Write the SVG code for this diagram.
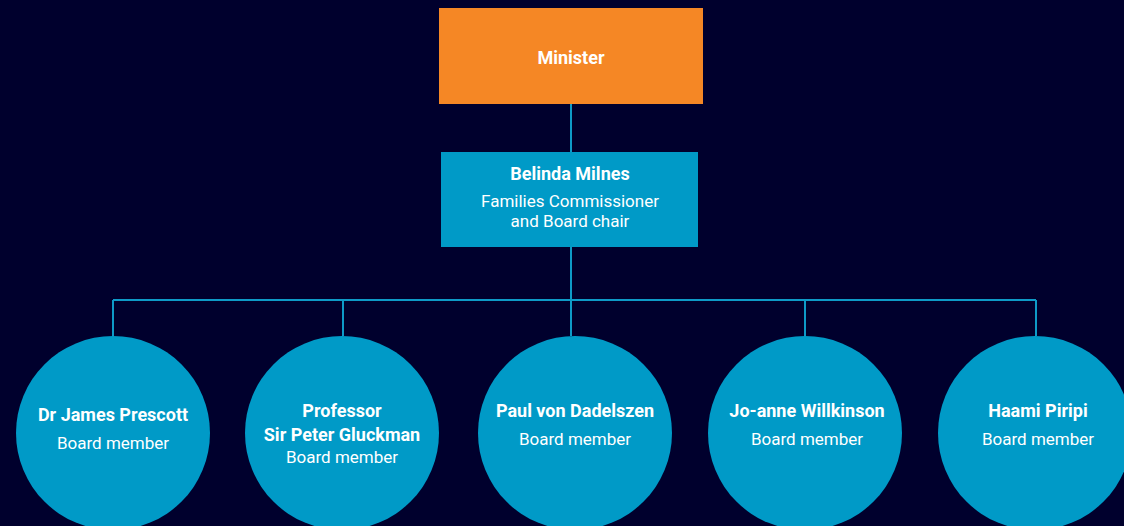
<svg xmlns="http://www.w3.org/2000/svg" width="1124" height="526" viewBox="0 0 1124 526">
<style>
.bg{fill:#00002D}
.cn{stroke:#0E9AC7;stroke-width:2;fill:none}
.blue{fill:#009AC7}
.org{fill:#F58725}
text{font-family:Roboto,"Liberation Sans",sans-serif;fill:#FFFFFF;text-anchor:middle}
.b{font-weight:bold;font-size:18px}
.r{font-size:17px}
</style>
<rect class="bg" x="0" y="0" width="1124" height="526"/>
<g id="connectors">
<path class="cn" d="M571 100V152M571 247V300M113 300H1036M113 300V336M343 300V336M571 300V336M805 300V336M1036 300V336"/>
</g>
<g id="minister">
<rect class="org" x="439" y="8" width="264" height="96"/>
<text class="b" x="571" y="64">Minister</text>
</g>
<g id="belinda">
<rect class="blue" x="441" y="152" width="257" height="95"/>
<text class="b" x="570" y="180">Belinda Milnes</text>
<text class="r" x="570" y="207">Families Commissioner</text>
<text class="r" x="570" y="227">and Board chair</text>
</g>
<g id="prescott">
<circle class="blue" cx="113" cy="433" r="97"/>
<text class="b" x="113" y="421">Dr James Prescott</text>
<text class="r" x="113" y="449">Board member</text>
</g>
<g id="gluckman">
<circle class="blue" cx="342" cy="433" r="97"/>
<text class="b" x="342" y="417">Professor</text>
<text class="b" x="342" y="441">Sir Peter Gluckman</text>
<text class="r" x="342" y="463">Board member</text>
</g>
<g id="dadelszen">
<circle class="blue" cx="575" cy="433" r="97"/>
<text class="b" x="575" y="417">Paul von Dadelszen</text>
<text class="r" x="575" y="445">Board member</text>
</g>
<g id="willkinson">
<circle class="blue" cx="805" cy="433" r="97"/>
<text class="b" x="807" y="417">Jo-anne Willkinson</text>
<text class="r" x="807" y="445">Board member</text>
</g>
<g id="piripi">
<circle class="blue" cx="1035" cy="433" r="97"/>
<text class="b" x="1038" y="417">Haami Piripi</text>
<text class="r" x="1038" y="445">Board member</text>
</g>
</svg>
